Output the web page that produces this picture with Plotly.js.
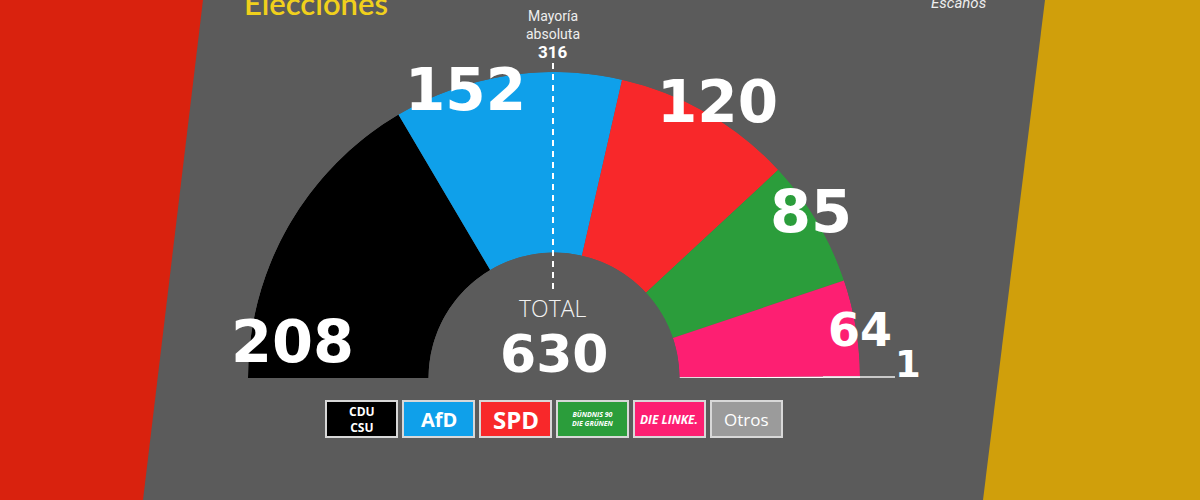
<!DOCTYPE html>
<html>
<head>
<meta charset="utf-8">
<script src="https://cdn.plot.ly/plotly-3.0.1.min.js"></script>
<style>html,body{margin:0;padding:0;background:#5b5b5b;}#chart{width:1200px;height:500px;}</style>
</head>
<body>
<div id="chart"></div>
<script>
// ---- data ----
const parties = ['CDU/CSU', 'AfD', 'SPD', 'Grünen', 'Die Linke', 'Otros'];
const seats = [208, 152, 120, 85, 64, 1];
const partyColors = ['#000000', '#0fa0ea', '#f8282a', '#2b9d3b', '#fd1f72', '#ffffff'];
const boxColors = ['#000000', '#0fa0ea', '#f8282a', '#2b9d3b', '#fd1f72', '#9b9b9b'];
const boxLabels = ['<b>CDU<br>CSU</b>', '<b>AfD</b>', '<b>SPD</b>', '<b><i>BÜNDNIS 90<br>DIE GRÜNEN</i></b>', '<b><i>DIE LINKE.</i></b>', 'Otros'];
const totalSeats = 630;
const majority = 316;
const titleText = 'Elecciones';
const unitText = 'Escaños';

// ---- derived angles (180 degrees = all seats) ----
const thetas = [], widths = [];
let cum = 0;
seats.forEach(v => {
  widths.push(v / totalSeats * 180);
  thetas.push((cum + v / 2) / totalSeats * 180);
  cum += v;
});

const trace = {
  type: 'barpolar',
  r: seats.map(() => 1),
  theta: thetas,
  width: widths,
  text: parties,
  marker: { color: partyColors, line: { width: 0 } },
  hoverinfo: 'text'
};

const numFont = { family: 'DejaVu Sans, sans-serif', size: 60, color: '#ffffff', weight: 700 };
function px2x(p) { return p / 1200; }
function px2y(p) { return 1 - p / 500; }

const labelPos = [[292, 341, 59], [466, 90, 58], [717, 102, 58], [811, 212, 59], [860, 330, 46], [908, 364, 37]];
const annotations = seats.map((v, i) => ({
  xref: 'paper', yref: 'paper', x: px2x(labelPos[i][0]), y: px2y(labelPos[i][1]),
  xanchor: 'center', yanchor: 'middle', showarrow: false,
  text: String(v), font: Object.assign({}, numFont, { size: labelPos[i][2] })
}));

annotations.push(
  { xref: 'paper', yref: 'paper', x: px2x(553), y: px2y(308), xanchor: 'center', yanchor: 'middle', showarrow: false,
    text: 'TOTAL', font: { family: 'Open Sans, sans-serif', size: 23, color: '#f2f2f2', weight: 300 } },
  { xref: 'paper', yref: 'paper', x: px2x(554), y: px2y(354), xanchor: 'center', yanchor: 'middle', showarrow: false,
    text: String(totalSeats), font: Object.assign({}, numFont, { size: 52 }) },
  { xref: 'paper', yref: 'paper', x: px2x(553), y: px2y(25), xanchor: 'center', yanchor: 'middle', showarrow: false,
    text: 'Mayoría<br>absoluta', font: { family: 'Roboto, sans-serif', size: 14, color: '#eeeeee' } },
  { xref: 'paper', yref: 'paper', x: px2x(553), y: px2y(52), xanchor: 'center', yanchor: 'middle', showarrow: false,
    text: '<b>' + majority + '</b>', font: { family: 'Roboto, sans-serif', size: 17, color: '#ffffff' } },
  { xref: 'paper', yref: 'paper', x: px2x(316), y: px2y(3), xanchor: 'center', yanchor: 'middle', showarrow: false,
    text: titleText, font: { family: 'Lato, sans-serif', size: 31, color: '#f0d01c', weight: 600 } },
  { xref: 'paper', yref: 'paper', x: px2x(958), y: px2y(3), xanchor: 'center', yanchor: 'middle', showarrow: false,
    text: '<i>' + unitText + '</i>', font: { family: 'Roboto, sans-serif', size: 15, color: '#eeeeee' } }
);

const shapes = [
  { type: 'path', xref: 'paper', yref: 'paper', layer: 'below', line: { width: 0 }, fillcolor: '#d9220e',
    path: 'M 0 1 L ' + px2x(203) + ' 1 L ' + px2x(143) + ' 0 L 0 0 Z' },
  { type: 'path', xref: 'paper', yref: 'paper', layer: 'below', line: { width: 0 }, fillcolor: '#d09f0b',
    path: 'M ' + px2x(1045) + ' 1 L 1 1 L 1 0 L ' + px2x(983) + ' 0 Z' },
  { type: 'line', xref: 'paper', yref: 'paper', layer: 'above', x0: px2x(553), x1: px2x(553), y0: px2y(63), y1: px2y(290),
    line: { color: '#ffffff', width: 2, dash: '6px,5px' } },
  { type: 'line', xref: 'paper', yref: 'paper', layer: 'above', x0: px2x(823), x1: px2x(895), y0: px2y(377), y1: px2y(377),
    line: { color: '#eeeeee', width: 1.5 } }
];

// legend boxes
parties.forEach((p, i) => {
  const left = 326 + i * 77;
  shapes.push({ type: 'rect', xref: 'paper', yref: 'paper', layer: 'above',
    x0: px2x(left), x1: px2x(left + 71), y0: px2y(401), y1: px2y(437),
    fillcolor: boxColors[i], line: { color: '#d8d8d8', width: 2 } });
  const sz = [12, 20, 24, 7, 12, 17][i];
  annotations.push({ xref: 'paper', yref: 'paper', x: px2x(left + 35.5), y: px2y(419), xanchor: 'center', yanchor: 'middle',
    showarrow: false, text: boxLabels[i],
    font: { family: 'Open Sans, sans-serif', size: sz, color: '#ffffff' } });
});

const layout = {
  width: 1200, height: 500,
  margin: { l: 0, r: 0, t: 0, b: 0 },
  paper_bgcolor: '#5b5b5b',
  showlegend: false,
  polar: {
    domain: { x: [px2x(248), px2x(860)], y: [px2y(378), px2y(72)] },
    sector: [0, 180],
    hole: 0.41,
    bgcolor: 'rgba(0,0,0,0)',
    radialaxis: { visible: false, range: [0, 1] },
    angularaxis: { visible: false, rotation: 180, direction: 'clockwise', thetaunit: 'degrees' }
  },
  annotations: annotations,
  shapes: shapes
};

Plotly.newPlot('chart', [trace], layout, { displayModeBar: false, staticPlot: true });
</script>
</body>
</html>
